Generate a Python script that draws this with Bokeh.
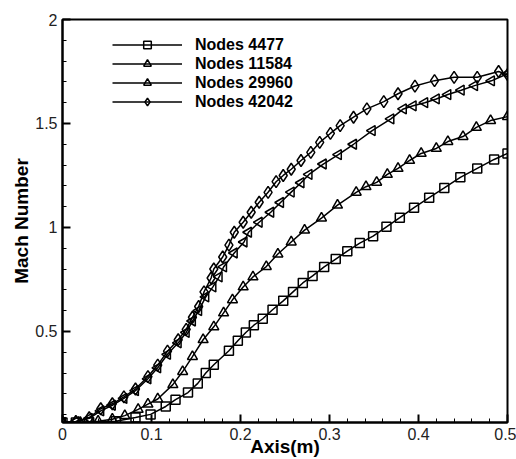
import numpy as np
from bokeh.plotting import figure
from bokeh.models import Range1d, FixedTicker, Legend, LegendItem
from bokeh.embed import file_html
from bokeh.resources import INLINE

# ---- data ----
x_4477 = [0, 0.015, 0.03, 0.06, 0.082, 0.099, 0.116, 0.127, 0.141, 0.152, 0.161, 0.170,
          0.187, 0.197, 0.206, 0.215, 0.225, 0.236, 0.248, 0.259, 0.270, 0.281, 0.294,
          0.307, 0.320, 0.334, 0.349, 0.364, 0.379, 0.395, 0.412, 0.429, 0.447, 0.466,
          0.485, 0.5]
y_4477 = [0.062, 0.062, 0.063, 0.068, 0.086, 0.101, 0.139, 0.172, 0.206, 0.250, 0.300, 0.340,
          0.407, 0.455, 0.495, 0.530, 0.561, 0.604, 0.647, 0.690, 0.733, 0.767, 0.810,
          0.848, 0.886, 0.925, 0.958, 1.003, 1.047, 1.095, 1.143, 1.190, 1.241, 1.284,
          1.327, 1.356]

x_11584 = [0, 0.02, 0.04, 0.056, 0.07, 0.085, 0.096, 0.107, 0.124, 0.135, 0.146, 0.158,
           0.170, 0.181, 0.191, 0.203, 0.214, 0.229, 0.242, 0.257, 0.272, 0.291, 0.309,
           0.330, 0.341, 0.353, 0.365, 0.377, 0.390, 0.403, 0.420, 0.433, 0.450, 0.465,
           0.481, 0.5]
y_11584 = [0.062, 0.063, 0.068, 0.078, 0.095, 0.125, 0.150, 0.175, 0.244, 0.307, 0.379, 0.460,
           0.522, 0.589, 0.652, 0.714, 0.762, 0.812, 0.872, 0.930, 0.987, 1.045, 1.107,
           1.169, 1.196, 1.217, 1.255, 1.284, 1.322, 1.356, 1.380, 1.413, 1.437, 1.481,
           1.514, 1.533]

x_29960 = [0, 0.015, 0.03, 0.043, 0.056, 0.069, 0.082, 0.096, 0.107, 0.118, 0.130, 0.139,
           0.146, 0.153, 0.161, 0.169, 0.176, 0.181, 0.193, 0.204, 0.209, 0.221, 0.234,
           0.245, 0.257, 0.268, 0.277, 0.293, 0.310, 0.327, 0.348, 0.369, 0.383, 0.394,
           0.407, 0.420, 0.433, 0.448, 0.463, 0.482, 0.5]
y_29960 = [0.062, 0.066, 0.082, 0.118, 0.145, 0.178, 0.215, 0.272, 0.325, 0.390, 0.445, 0.495,
           0.550, 0.600, 0.666, 0.714, 0.762, 0.810, 0.877, 0.930, 0.977, 1.025, 1.073,
           1.120, 1.170, 1.215, 1.255, 1.305, 1.350, 1.400, 1.466, 1.522, 1.570, 1.585,
           1.600, 1.618, 1.639, 1.660, 1.682, 1.705, 1.739]

x_42042 = [0, 0.015, 0.03, 0.043, 0.056, 0.069, 0.082, 0.096, 0.107, 0.118, 0.130, 0.139,
           0.146, 0.153, 0.159, 0.167, 0.170, 0.180, 0.187, 0.193, 0.203, 0.212, 0.221,
           0.231, 0.240, 0.248, 0.257, 0.268, 0.279, 0.289, 0.301, 0.312, 0.327, 0.342,
           0.361, 0.377, 0.396, 0.418, 0.440, 0.466, 0.490, 0.5]
y_42042 = [0.062, 0.067, 0.085, 0.128, 0.152, 0.185, 0.223, 0.283, 0.338, 0.405, 0.460, 0.510,
           0.568, 0.620, 0.690, 0.757, 0.800, 0.858, 0.915, 0.977, 1.025, 1.073, 1.121,
           1.169, 1.220, 1.250, 1.280, 1.322, 1.361, 1.409, 1.452, 1.490, 1.530, 1.570,
           1.605, 1.643, 1.680, 1.706, 1.722, 1.722, 1.750, 1.735]

series_names = ["Nodes 4477", "Nodes 11584", "Nodes 29960", "Nodes 42042"]
x_ticks = [0, 0.1, 0.2, 0.3, 0.4, 0.5]
x_tick_labels = ["0", "0.1", "0.2", "0.3", "0.4", "0.5"]
y_ticks = [0.5, 1, 1.5, 2]
y_tick_labels = ["0.5", "1", "1.5", "2"]

FONT = "Liberation Sans"

p = figure(width=516, height=459, output_backend="svg", toolbar_location=None,
           x_range=Range1d(0, 0.5), y_range=Range1d(0.062, 2.0),
           min_border_left=62, min_border_top=19, min_border_right=9, min_border_bottom=36)
p.grid.visible = False
p.outline_line_color = "black"
p.outline_line_width = 2
p.background_fill_color = "white"
p.border_fill_color = "white"

xs = [x_4477, x_11584, x_29960, x_42042]
ys = [y_4477, y_11584, y_29960, y_42042]
markers = ["square", "triangle", "triangle", "diamond"]
angles = [0, 0, np.pi / 2, 0]
sizes = [9, 10, 10, 12]

items = []
for xv, yv, mk, ang, sz, name in zip(xs, ys, markers, angles, sizes, series_names):
    lr = p.line(xv, yv, line_color="black", line_width=1.5)
    sr = p.scatter(xv, yv, marker=mk, angle=ang, size=sz, line_color="black",
                   line_width=1.5, fill_alpha=0)
    items.append(LegendItem(label=name, renderers=[lr, sr]))

legend = Legend(items=items, location=(50, 311), padding=0, margin=0, spacing=0,
                glyph_width=70, glyph_height=19, label_height=19, label_standoff=13,
                border_line_alpha=0, background_fill_alpha=0,
                label_text_font=FONT, label_text_font_style="bold",
                label_text_font_size="16px", label_text_color="black")
p.add_layout(legend, "center")

for ax in (p.xaxis[0], p.yaxis[0]):
    ax.axis_line_width = 2
    ax.axis_line_color = "black"
    ax.major_tick_in = 8
    ax.major_tick_out = 0
    ax.minor_tick_in = 4
    ax.minor_tick_out = 0
    ax.major_tick_line_width = 2
    ax.minor_tick_line_width = 1
    ax.major_tick_line_color = "black"
    ax.minor_tick_line_color = "black"
    ax.major_label_text_font = FONT
    ax.major_label_text_font_size = "16px"
    ax.major_label_text_color = "#222222"
    ax.axis_label_text_font = FONT
    ax.axis_label_text_font_style = "bold"
    ax.axis_label_text_font_size = "19px"
    ax.axis_label_text_color = "black"

p.xaxis[0].ticker = FixedTicker(ticks=x_ticks,
                                minor_ticks=[round(i * 0.02, 2) for i in range(26)])
p.xaxis[0].major_label_overrides = dict(zip(x_ticks, x_tick_labels))
p.xaxis[0].axis_label = "Axis(m)"
p.xaxis[0].major_label_standoff = 5
p.xaxis[0].axis_label_standoff = -7

p.yaxis[0].ticker = FixedTicker(ticks=y_ticks,
                                minor_ticks=[round(i * 0.1, 1) for i in range(1, 21)])
p.yaxis[0].major_label_overrides = dict(zip(y_ticks, y_tick_labels))
p.yaxis[0].axis_label = "Mach Number"
p.yaxis[0].major_label_standoff = 5
p.yaxis[0].axis_label_standoff = 0

open("out.html", "w").write(file_html(p, INLINE))
